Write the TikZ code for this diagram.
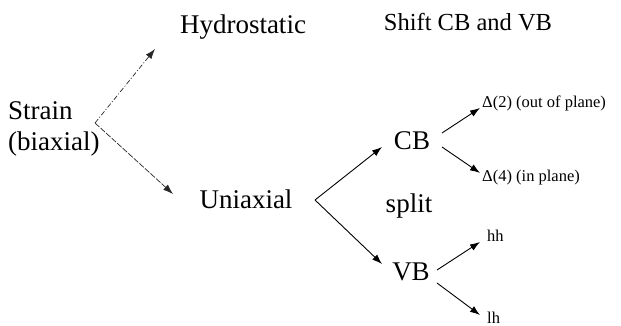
\documentclass[tikz,border=0pt]{standalone}
\usepackage{fontspec}
\setmainfont{Liberation Serif}
\usetikzlibrary{arrows.meta}
\begin{document}
\begin{tikzpicture}[x=1pt,y=-1pt,
  big/.style={inner sep=0pt,font=\fontsize{27}{31}\selectfont},
  small/.style={inner sep=0pt,font=\fontsize{16.5}{19}\selectfont},
  arr/.style={line width=0.9pt,-{Latex[length=10pt,width=7pt]}},
  faint/.style={line width=0.7pt,black!85,-{Latex[length=10pt,width=7pt]}}]
\useasboundingbox (0,0) rectangle (621,326);
% texts
\node[big,anchor=west,align=left] (strain) at (8,129) {Strain\\(biaxial)};
\node[big] (hydro) at (243,27) {Hydrostatic};
\node[big,font=\fontsize{24.5}{28}\selectfont] (shift) at (468,22) {Shift CB and VB};
\node[big] (uni) at (246,199) {Uniaxial};
\node[big] (cb) at (412,141) {CB};
\node[big] (split) at (409,206) {split};
\node[big] (vb) at (411,272) {VB};
\node[small,anchor=west] (d2) at (482,103) {Δ(2) (out of plane)};
\node[small,anchor=west] (d4) at (482,178) {Δ(4) (in plane)};
\node[small,anchor=west] (hh) at (487,236) {hh};
\node[small,anchor=west] (lh) at (487,318) {lh};
% branch points and tips
\coordinate (b1) at (95,123);
\coordinate (t1) at (155,49);
\coordinate (t2) at (173,194);
\coordinate (b2) at (315,200);
\coordinate (t3) at (382,147);
\coordinate (t4) at (382,264);
\coordinate (c1) at (442,133);
\coordinate (c1t) at (480,108);
\coordinate (c2) at (442,147);
\coordinate (c2t) at (480,173);
\coordinate (v1) at (437,270);
\coordinate (v1t) at (480,242);
\coordinate (v2) at (437,283);
\coordinate (v2t) at (480,315);
% connectors
\draw[faint,dash pattern=on 5pt off 2pt on 1pt off 2pt] (b1) -- (t1);
\draw[faint,dash pattern=on 6pt off 1.5pt] (b1) -- (t2);
\draw[arr] (b2) -- (t3);
\draw[arr] (b2) -- (t4);
\draw[arr] (c1) -- (c1t);
\draw[arr] (c2) -- (c2t);
\draw[arr] (v1) -- (v1t);
\draw[arr] (v2) -- (v2t);
\end{tikzpicture}
\end{document}
